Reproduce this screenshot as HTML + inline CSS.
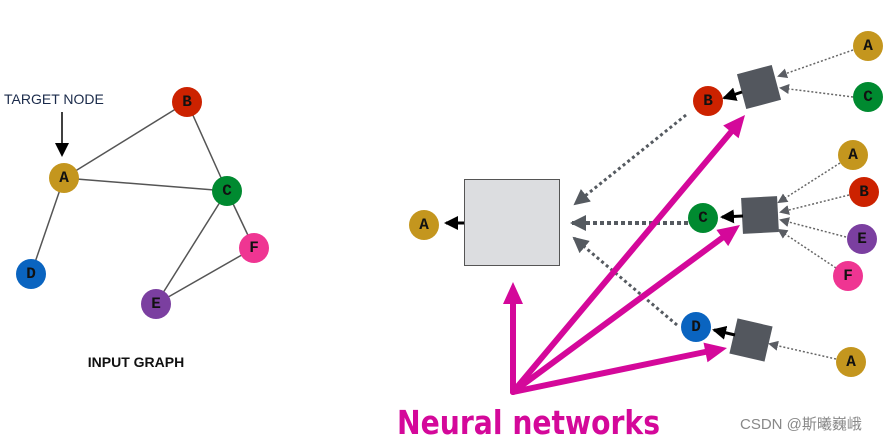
<!DOCTYPE html>
<html><head><meta charset="utf-8"><style>
html,body{margin:0;padding:0;background:#fff;}
svg{display:block}
.n{font-family:"Liberation Mono",monospace;font-weight:bold;font-size:16px;text-anchor:middle;dominant-baseline:central;fill:#111}
</style></head><body>
<svg width="891" height="441" viewBox="0 0 891 441" xmlns="http://www.w3.org/2000/svg">
<defs>
<marker id="mg" markerWidth="10" markerHeight="10" refX="8" refY="5" orient="auto" markerUnits="userSpaceOnUse"><path d="M0,0 L10,5 L0,10 z" fill="#5a5d63"/></marker>
<marker id="mgb" markerWidth="16" markerHeight="16" refX="14" refY="8" orient="auto" markerUnits="userSpaceOnUse"><path d="M0,0 L16,8 L0,16 z" fill="#555a60"/></marker>
<marker id="mk" markerWidth="14" markerHeight="14" refX="12" refY="7" orient="auto" markerUnits="userSpaceOnUse"><path d="M0,0 L14,7 L0,14 z" fill="#000"/></marker>
</defs>
<!-- left graph -->
<g stroke="#555" stroke-width="1.5">
<line x1="64" y1="178" x2="187" y2="102"/><line x1="64" y1="178" x2="227" y2="191"/>
<line x1="64" y1="178" x2="31" y2="274"/><line x1="187" y1="102" x2="227" y2="191"/>
<line x1="227" y1="191" x2="156" y2="304"/><line x1="227" y1="191" x2="254" y2="248"/>
<line x1="156" y1="304" x2="254" y2="248"/>
</g>
<text x="4" y="104" font-family="Liberation Sans,sans-serif" font-size="14" fill="#1a2a4a">TARGET NODE</text>
<line x1="62" y1="112" x2="62" y2="155" stroke="#000" stroke-width="1.5" marker-end="url(#mk)"/>
<circle cx="64" cy="178" r="15" fill="#c4961e"/><text class="n" x="64" y="178">A</text>
<circle cx="187" cy="102" r="15" fill="#cc2200"/><text class="n" x="187" y="102">B</text>
<circle cx="227" cy="191" r="15" fill="#008a30"/><text class="n" x="227" y="191">C</text>
<circle cx="31" cy="274" r="15" fill="#0a64c0"/><text class="n" x="31" y="274">D</text>
<circle cx="156" cy="304" r="15" fill="#7b3fa0"/><text class="n" x="156" y="304">E</text>
<circle cx="254" cy="248" r="15" fill="#ef3592"/><text class="n" x="254" y="248">F</text>
<text x="136" y="367" text-anchor="middle" font-family="Liberation Sans,sans-serif" font-weight="bold" font-size="14" fill="#111">INPUT GRAPH</text>

<!-- right: big box -->
<rect x="464.5" y="179.5" width="95" height="86" fill="#dcdde0" stroke="#555" stroke-width="1"/>
<line x1="464" y1="223" x2="446" y2="223" stroke="#000" stroke-width="3" marker-end="url(#mk)"/>
<circle cx="424" cy="225" r="15" fill="#c4961e"/><text class="n" x="424" y="225">A</text>

<!-- dotted into big box -->
<line x1="686" y1="115" x2="575" y2="204" stroke="#555a60" stroke-width="3" stroke-dasharray="3,3" marker-end="url(#mgb)"/>
<line x1="688" y1="223" x2="572" y2="223" stroke="#555a60" stroke-width="4" stroke-dasharray="4,3" marker-end="url(#mgb)"/>
<line x1="677" y1="325" x2="574" y2="238" stroke="#555a60" stroke-width="3" stroke-dasharray="3,3" marker-end="url(#mgb)"/>

<!-- squares -->
<rect x="-18" y="-18" width="36" height="36" fill="#53575e" transform="translate(759,87) rotate(-15)"/>
<rect x="-18" y="-18" width="36" height="36" fill="#53575e" transform="translate(760,215) rotate(-3)"/>
<rect x="-18" y="-18" width="36" height="36" fill="#53575e" transform="translate(751,340) rotate(13)"/>
<line x1="742" y1="92" x2="724" y2="98" stroke="#000" stroke-width="3" marker-end="url(#mk)"/>
<line x1="743" y1="216" x2="722" y2="217" stroke="#000" stroke-width="3" marker-end="url(#mk)"/>
<line x1="735" y1="335" x2="714" y2="330" stroke="#000" stroke-width="3" marker-end="url(#mk)"/>

<!-- input dotted -->
<g stroke="#666" stroke-width="1.5" stroke-dasharray="2,2" fill="none">
<line x1="853" y1="50" x2="779" y2="76" marker-end="url(#mg)"/>
<line x1="853" y1="97" x2="781" y2="88" marker-end="url(#mg)"/>
<line x1="840" y1="163" x2="779" y2="202" marker-end="url(#mg)"/>
<line x1="849" y1="195" x2="781" y2="212" marker-end="url(#mg)"/>
<line x1="846" y1="237" x2="781" y2="220" marker-end="url(#mg)"/>
<line x1="836" y1="268" x2="779" y2="230" marker-end="url(#mg)"/>
<line x1="836" y1="359" x2="770" y2="344" marker-end="url(#mg)"/>
</g>

<circle cx="708" cy="101" r="15" fill="#cc2200"/><text class="n" x="708" y="101">B</text>
<circle cx="703" cy="218" r="15" fill="#008a30"/><text class="n" x="703" y="218">C</text>
<circle cx="696" cy="327" r="15" fill="#0a64c0"/><text class="n" x="696" y="327">D</text>
<circle cx="868" cy="46" r="15" fill="#c4961e"/><text class="n" x="868" y="46">A</text>
<circle cx="868" cy="97" r="15" fill="#008a30"/><text class="n" x="868" y="97">C</text>
<circle cx="853" cy="155" r="15" fill="#c4961e"/><text class="n" x="853" y="155">A</text>
<circle cx="864" cy="192" r="15" fill="#cc2200"/><text class="n" x="864" y="192">B</text>
<circle cx="862" cy="239" r="15" fill="#7b3fa0"/><text class="n" x="862" y="239">E</text>
<circle cx="848" cy="276" r="15" fill="#ef3592"/><text class="n" x="848" y="276">F</text>
<circle cx="851" cy="362" r="15" fill="#c4961e"/><text class="n" x="851" y="362">A</text>

<!-- magenta arrows -->
<g stroke="#d4089a" stroke-width="6" stroke-linecap="round" fill="none">
<line x1="513" y1="392" x2="513" y2="302"/>
<line x1="513" y1="392" x2="731" y2="132"/>
<line x1="513" y1="392" x2="722" y2="238"/>
<line x1="513" y1="392" x2="705" y2="352"/>
</g>
<g fill="#d4089a">
<polygon points="513,282 503,304 523,304"/>
<polygon points="745,115 738.6,138.3 723.2,125.5"/>
<polygon points="740,225 728.2,246.1 716.4,229.9"/>
<polygon points="727,348 707.5,362.2 703.5,342.6"/>
</g>

<text x="397" y="434" textLength="263" lengthAdjust="spacingAndGlyphs" font-family="DejaVu Sans,Liberation Sans,sans-serif" font-weight="bold" font-size="33" fill="#d4089a">Neural networks</text>
<text x="740" y="429" font-family="Liberation Sans,'Noto Sans CJK SC',sans-serif" font-size="15" fill="#888">CSDN @斯曦巍峨</text>
</svg>
</body></html>
